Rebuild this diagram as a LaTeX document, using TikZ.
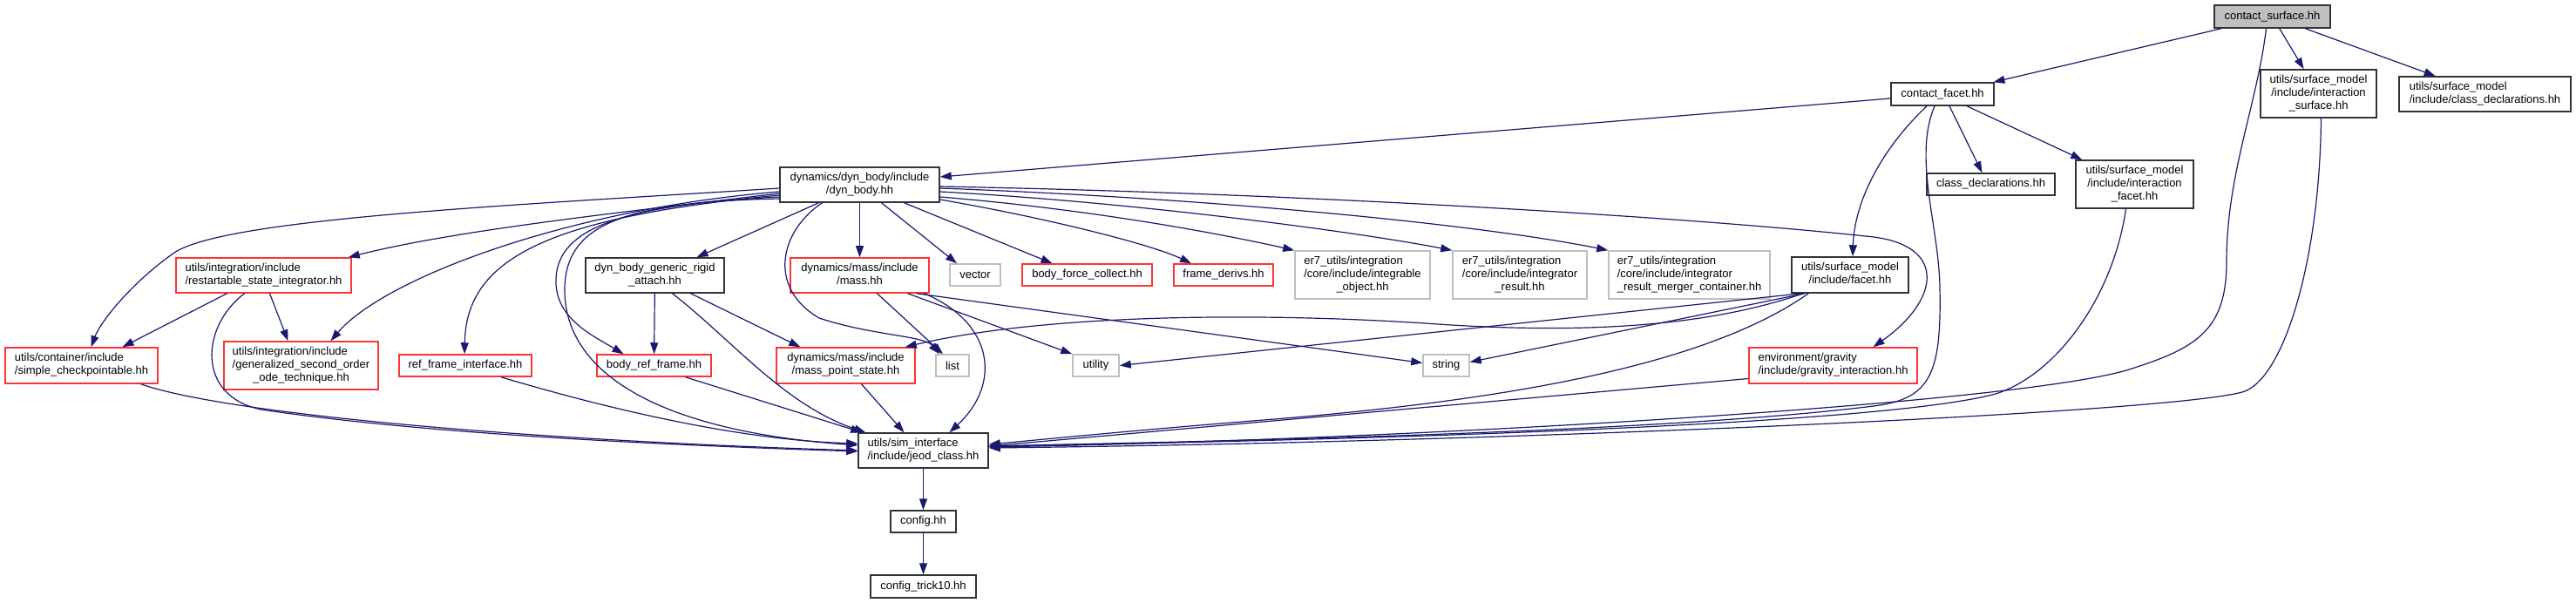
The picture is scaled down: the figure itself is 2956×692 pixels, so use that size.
\documentclass[tikz,border=0pt]{standalone}
\usepackage{fontspec}
\setmainfont{Liberation Sans}
\usetikzlibrary{arrows.meta}
\definecolor{edgec}{HTML}{191970}
\definecolor{redc}{HTML}{FF3333}
\definecolor{grayc}{HTML}{BFBFBF}
\definecolor{blackc}{HTML}{333333}
\newcommand{\Lt}[1]{\begin{tabular}{@{}l@{}}#1\end{tabular}}
\newcommand{\Ct}[1]{\begin{tabular}{@{}c@{}}#1\end{tabular}}
\newcommand{\Cl}[1]{\multicolumn{1}{@{}c@{}}{#1}}
\begin{document}
\begin{tikzpicture}[x=1pt,y=-1pt,
  box/.style={draw=blackc, line width=1.5pt, inner sep=0pt, fill=white,
    font=\fontsize{13}{15}\selectfont},
  redbox/.style={box, draw=redc},
  graybox/.style={box, draw=grayc},
  e/.style={draw=edgec, line width=1.2pt, -{Triangle[length=13pt,width=9pt]}},
]
\fill[white] (0,0) rectangle (2956,692);
\useasboundingbox (0,0) rectangle (2956,692);

% nodes
\node[box, fill=grayc, minimum width=133pt, minimum height=26pt] (CS) at (2607.5,19) {contact\_surface.hh};
\node[box, minimum width=118pt, minimum height=26pt] (CF) at (2229,108) {contact\_facet.hh};
\node[box, minimum width=133pt, minimum height=55pt] (IS) at (2660.5,107.5) {\Ct{utils/surface\_model\\/include/interaction\\\_surface.hh}};
\node[box, minimum width=197pt, minimum height=40pt] (SCD) at (2851.5,108) {\Lt{utils/surface\_model\\/include/class\_declarations.hh}};
\node[box, minimum width=147pt, minimum height=25pt] (CD) at (2284.5,211.5) {class\_declarations.hh};
\node[box, minimum width=135pt, minimum height=55pt] (IF) at (2449.5,211.5) {\Ct{utils/surface\_model\\/include/interaction\\\_facet.hh}};
\node[box, minimum width=183pt, minimum height=40pt] (DB) at (986.5,212) {\Ct{dynamics/dyn\_body/include\\/dyn\_body.hh}};

\node[redbox, minimum width=201pt, minimum height=40pt] (RSI) at (302.5,316) {\Lt{utils/integration/include\\/restartable\_state\_integrator.hh}};
\node[box, minimum width=159pt, minimum height=40pt] (DBG) at (751.5,316) {\Ct{dyn\_body\_generic\_rigid\\\_attach.hh}};
\node[redbox, minimum width=159pt, minimum height=40pt] (MA) at (986.5,316) {\Ct{dynamics/mass/include\\/mass.hh}};
\node[graybox, minimum width=58pt, minimum height=25pt] (VE) at (1119,315.5) {vector};
\node[redbox, minimum width=149pt, minimum height=25pt] (BFC) at (1247.5,315.5) {body\_force\_collect.hh};
\node[redbox, minimum width=114pt, minimum height=25pt] (FD) at (1404,315.5) {frame\_derivs.hh};
\node[graybox, minimum width=155pt, minimum height=55pt] (IO) at (1563.5,315.5) {\Lt{er7\_utils/integration\\/core/include/integrable\\\Cl{\_object.hh}}};
\node[graybox, minimum width=154pt, minimum height=55pt] (IR) at (1744,315.5) {\Lt{er7\_utils/integration\\/core/include/integrator\\\Cl{\_result.hh}}};
\node[graybox, minimum width=185pt, minimum height=55pt] (IRM) at (1938.5,315.5) {\Lt{er7\_utils/integration\\/core/include/integrator\\\_result\_merger\_container.hh}};
\node[box, minimum width=134pt, minimum height=41pt] (FA) at (2123,315.5) {\Ct{utils/surface\_model\\/include/facet.hh}};

\node[redbox, minimum width=175pt, minimum height=41pt] (SC) at (93.5,419.5) {\Lt{utils/container/include\\/simple\_checkpointable.hh}};
\node[redbox, minimum width=177pt, minimum height=55pt] (GSO) at (345.5,419.5) {\Lt{utils/integration/include\\/generalized\_second\_order\\\Cl{\_ode\_technique.hh}}};
\node[redbox, minimum width=152pt, minimum height=25pt] (RFI) at (534,419.5) {ref\_frame\_interface.hh};
\node[redbox, minimum width=131pt, minimum height=25pt] (BRF) at (750.5,419.5) {body\_ref\_frame.hh};
\node[redbox, minimum width=159pt, minimum height=41pt] (MPS) at (970.5,419.5) {\Ct{dynamics/mass/include\\/mass\_point\_state.hh}};
\node[graybox, minimum width=38pt, minimum height=25pt] (LI) at (1093,419.5) {list};
\node[graybox, minimum width=53pt, minimum height=25pt] (UT) at (1257.5,419.5) {utility};
\node[graybox, minimum width=53pt, minimum height=25pt] (ST) at (1659.5,419.5) {string};
\node[redbox, minimum width=193pt, minimum height=41pt] (GI) at (2103.5,419.5) {\Lt{environment/gravity\\/include/gravity\_interaction.hh}};

\node[box, minimum width=149pt, minimum height=40pt] (JC) at (1059.5,517) {\Lt{utils/sim\_interface\\/include/jeod\_class.hh}};
\node[box, minimum width=75pt, minimum height=25pt] (CO) at (1059.5,598.5) {config.hh};
\node[box, minimum width=121pt, minimum height=26pt] (CT) at (1059.5,673) {config\_trick10.hh};

% root edges
\draw[e] (CS) -- (CF);
\draw[e] (CS) -- (IS);
\draw[e] (CS) -- (SCD);
\draw[e] ([xshift=-7pt]CS.south) .. controls (2590,120) and (2555,200) .. (2555,300)
  .. controls (2555,380) and (2520,400) .. (2440,425)
  .. controls (2300,465) and (1600,505) .. ([yshift=4pt]JC.east);

% contact_facet edges
\draw[e] ([yshift=-5pt]CF.west) -- ([yshift=9pt]DB.east);
\draw[e] ([xshift=8pt]CF.south) -- ([xshift=-10pt]CD.north);
\draw[e] ([xshift=28pt]CF.south) -- ([xshift=8pt]IF.north west);
\draw[e] ([xshift=-18pt]CF.south) .. controls (2160,170) and (2128,230) .. ([xshift=3pt]FA.north);
\draw[e] ([xshift=-9pt]CF.south) .. controls (2195,180) and (2225,260) .. (2226,330)
  .. controls (2228,430) and (2215,458) .. (2150,466)
  .. controls (1900,497) and (1400,506) .. ([yshift=5pt]JC.east);

% interaction surface / facet to jeod_class
\draw[e] ([xshift=3pt]IS.south) .. controls (2662,300) and (2620,437) .. (2573,450)
  .. controls (2480,475) and (1700,508) .. ([yshift=3pt]JC.east);
\draw[e] ([xshift=-10pt]IF.south) .. controls (2425,340) and (2360,430) .. (2290,452)
  .. controls (2150,490) and (1500,506) .. ([yshift=5pt]JC.east);

% dyn_body edges
\draw[e] ([xshift=-47pt]DB.south) -- ([xshift=48pt]DBG.north);
\draw[e] (DB.south) -- (MA.north);
\draw[e] ([xshift=25pt]DB.south) -- ([xshift=-21pt]VE.north);
\draw[e] ([xshift=51pt]DB.south) -- ([xshift=-40pt]BFC.north);
\draw[e] ([yshift=-17pt]DB.east) .. controls (1200,250) and (1320,280) .. ([xshift=-37pt]FD.north);
\draw[e] ([yshift=-14pt]DB.east) .. controls (1250,240) and (1400,268) .. (IO.north west);
\draw[e] ([yshift=-8pt]DB.east) .. controls (1300,232) and (1550,265) .. (IR.north west);
\draw[e] ([yshift=-4pt]DB.east) .. controls (1400,228) and (1700,258) .. (IRM.north west);
\draw[e] ([yshift=-2pt]DB.east) .. controls (1500,222) and (1950,250) .. (2150,272)
  .. controls (2235,283) and (2225,345) .. ([xshift=46pt]GI.north);
\draw[e] ([xshift=-43pt]DB.south) .. controls (895,265) and (880,330) .. (940,365)
  .. controls (1000,385) and (1060,385) .. ([xshift=-15pt]LI.north);

\draw[e] ([yshift=-4pt]DB.west) .. controls (600,235) and (260,250) .. (200,290)
  .. controls (150,325) and (115,370) .. ([xshift=11pt]SC.north);
\draw[e] ([yshift=-10pt]DB.west) .. controls (700,245) and (520,265) .. ([xshift=-4pt]RSI.north east);
\draw[e] ([yshift=-8pt]DB.west) .. controls (650,240) and (440,320) .. ([xshift=34pt]GSO.north);
\draw[e] ([yshift=-12pt]DB.west) .. controls (620,250) and (535,300) .. ([xshift=-1pt]RFI.north);
\draw[e] ([yshift=-14pt]DB.west) .. controls (720,235) and (640,260) .. (638,320)
  .. controls (636,365) and (680,385) .. ([xshift=-35pt]BRF.north);
\draw[e] ([yshift=-16pt]DB.west) .. controls (710,232) and (650,260) .. (648,330)
  .. controls (646,430) and (760,495) .. ([yshift=6pt]JC.west);

% restartable integrator edges
\draw[e] ([xshift=-42pt]RSI.south) -- ([xshift=47pt]SC.north);
\draw[e] ([xshift=7pt]RSI.south) -- ([xshift=-15pt]GSO.north);
\draw[e] ([xshift=-22pt]RSI.south) .. controls (230,375) and (225,455) .. (300,470)
  .. controls (500,500) and (800,512) .. ([yshift=-1pt]JC.west);

% to jeod_class from lower nodes
\draw[e] ([xshift=68pt]SC.south) .. controls (260,475) and (600,505) .. (JC.west);
\draw[e] ([xshift=41pt]RFI.south) .. controls (700,470) and (850,505) .. ([yshift=8pt]JC.west);
\draw[e] ([xshift=36pt]BRF.south) -- ([xshift=5pt]JC.north west);
\draw[e] ([xshift=20pt]DBG.south) .. controls (840,390) and (900,465) .. ([xshift=9pt]JC.north west);
\draw[e] (DBG) -- (BRF);
\draw[e] ([xshift=41pt]DBG.south) -- ([xshift=28pt]MPS.north west);
\draw[e] ([xshift=18pt]MPS.south) -- ([xshift=-22pt]JC.north);

% mass edges
\draw[e] ([xshift=20pt]MA.south) -- ([xshift=-11pt]LI.north);
\draw[e] ([xshift=55pt]MA.south) -- (UT.north west);
\draw[e] ([xshift=65pt]MA.south) -- ([yshift=3pt]ST.west);
\draw[e] ([xshift=74pt]MA.south) .. controls (1140,370) and (1150,440) .. ([xshift=30pt]JC.north);

% facet edges
\draw[e] ([xshift=14pt]FA.south west) .. controls (1950,378) and (1800,382) .. (1650,372)
  .. controls (1450,358) and (1200,360) .. ([xshift=-12pt]MPS.north east);
\draw[e] ([xshift=12pt]FA.south west) -- (UT.east);
\draw[e] ([xshift=16pt]FA.south west) -- ([yshift=4pt]ST.east);
\draw[e] ([xshift=20pt]FA.south west) .. controls (1950,425) and (1700,462) .. (1450,482)
  .. controls (1300,494) and (1200,504) .. ([yshift=7pt]JC.east);

% gravity
\draw[e] ([yshift=-15pt]GI.west) -- ([yshift=5pt]JC.east);

% config chain
\draw[e] (JC) -- (CO);
\draw[e] (CO) -- (CT);
\end{tikzpicture}
\end{document}
